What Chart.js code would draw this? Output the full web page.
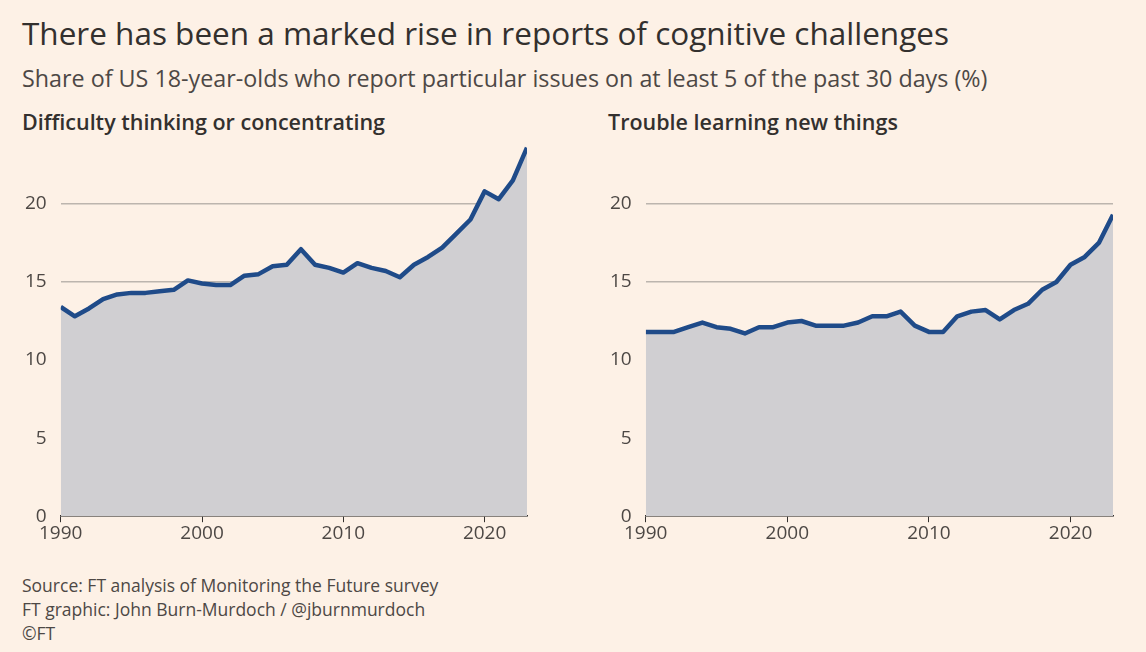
<!DOCTYPE html>
<html><head><meta charset="utf-8">
<script src="https://cdn.jsdelivr.net/npm/chart.js@4"></script>
<style>
body{margin:0;background:#fdf1e6;font-family:"Open Sans",sans-serif;color:#33302e;width:1146px;height:652px;overflow:hidden;position:relative}
.t{position:absolute;white-space:nowrap}
#title{left:22px;top:11px;font-size:31.5px;color:#33302e}
#sub{left:22px;top:62px;font-size:23.3px;color:#4d4845}
.pt{top:107px;font-size:21.5px;font-weight:600;color:#33302e}
.src{left:22px;font-size:17.5px;color:#4d4845}
.box{position:absolute;top:116px;height:429px}
</style></head><body>
<div class="t" id="title">There has been a marked rise in reports of cognitive challenges</div>
<div class="t" id="sub">Share of US 18-year-olds who report particular issues on at least 5 of the past 30 days (%)</div>
<div class="t pt" style="left:22px">Difficulty thinking or concentrating</div>
<div class="t pt" style="left:608px">Trouble learning new things</div>
<div class="box" style="left:11px;width:522px"><canvas id="c1"></canvas></div>
<div class="box" style="left:596px;width:523px"><canvas id="c2"></canvas></div>
<div class="t src" style="top:573px">Source: FT analysis of Monitoring the Future survey</div>
<div class="t src" style="top:597px">FT graphic: John Burn-Murdoch / @jburnmurdoch</div>
<div class="t src" style="top:621px">©FT</div>
<script>
const years=[];for(let y=1990;y<=2023;y++)years.push(y);
const thinking=[13.4,12.8,13.3,13.9,14.2,14.3,14.3,14.4,14.5,15.1,14.9,14.8,14.8,15.4,15.5,16.0,16.1,17.1,16.1,15.9,15.6,16.2,15.9,15.7,15.3,16.1,16.6,17.2,18.1,19.0,20.8,20.3,21.5,23.6];
const learning=[11.8,11.8,11.8,12.1,12.4,12.1,12.0,11.7,12.1,12.1,12.4,12.5,12.2,12.2,12.2,12.4,12.8,12.8,13.1,12.2,11.8,11.8,12.8,13.1,13.2,12.6,13.2,13.6,14.5,15.0,16.1,16.6,17.5,19.3];
const yTicks=[0,5,10,15,20];
function make(id,vals){
 new Chart(document.getElementById(id),{type:'line',
 data:{datasets:[{data:years.map((y,i)=>({x:y,y:vals[i]})),borderColor:'#1f4b89',borderWidth:4.5,backgroundColor:'#d0cfd2',fill:'origin',pointRadius:0,tension:0,borderJoinStyle:'round'}]},
 options:{responsive:true,maintainAspectRatio:false,animation:false,layout:{padding:{top:6,right:6}},
 plugins:{legend:{display:false},tooltip:{enabled:false}},
 scales:{
  x:{type:'linear',min:1990,max:2023,afterBuildTicks:a=>{a.ticks=[1990,2000,2010,2020].map(v=>({value:v}))},
     grid:{display:true,drawOnChartArea:false,drawTicks:true,tickLength:6,color:'#33302e'},border:{color:'#33302e',width:1.5},
     ticks:{color:'#4d4845',font:{size:19,family:'Open Sans'},padding:0,maxRotation:0,callback:v=>String(v)}},
  y:{min:0,max:24,afterBuildTicks:a=>{a.ticks=yTicks.map(v=>({value:v}))},
     grid:{color:'#bcb5ae',drawTicks:false,lineWidth:1.5},border:{display:false},
     ticks:{color:'#4d4845',font:{size:19,family:'Open Sans'},padding:14}}
 }}});
}
make('c1',thinking);make('c2',learning);
</script></body></html>
